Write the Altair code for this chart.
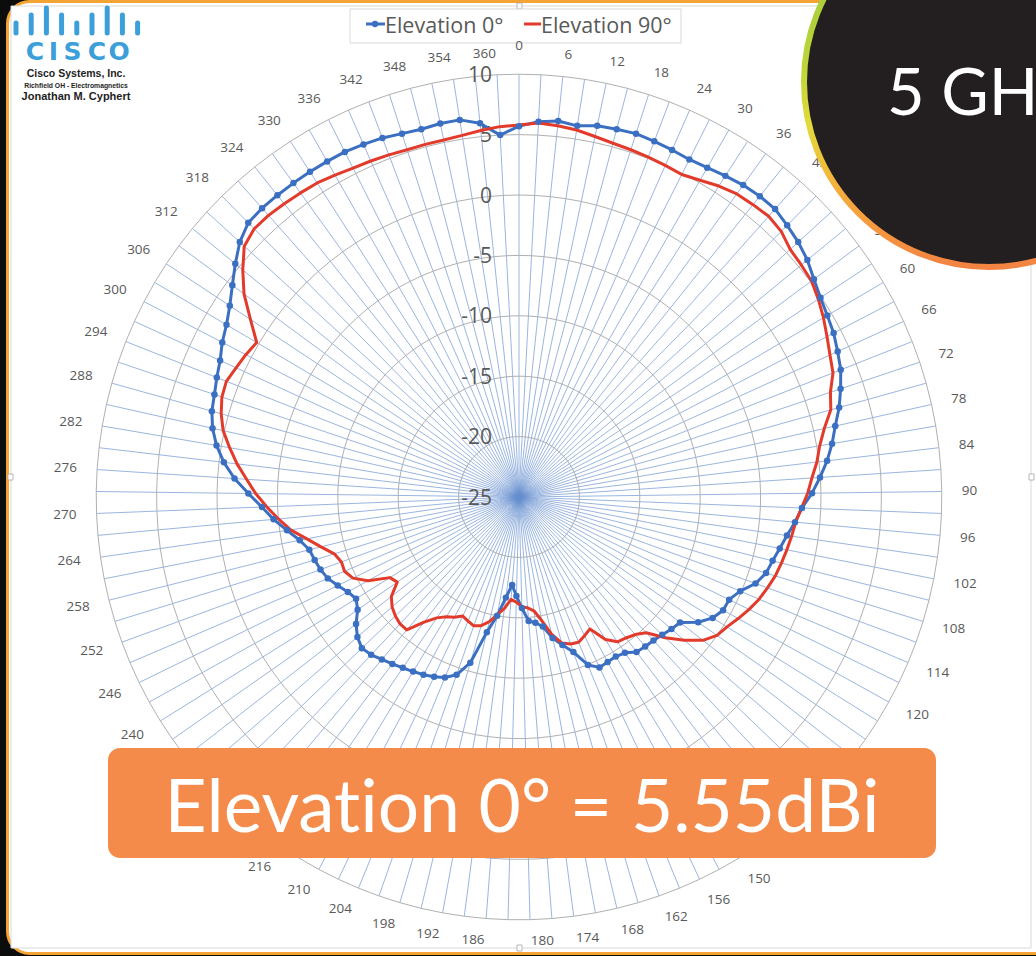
import math
import pandas as pd
import altair as alt

W, H = 1036, 956

# ---------------- data ----------------
degrees = list(range(0, 361, 3))  # 121 categories (0 ... 360)

elevation_0 = [
    5.7, 6.1, 6.3, 6.1, 6.4, 6.5, 6.6, 6.5, 6.4, 6.3,          # 0-27
    6.4, 6.6, 6.8, 6.9, 6.9, 6.6, 6.3, 5.9, 5.35, 4.92,        # 30-57
    4.62, 4.37, 4.0, 3.64, 3.09, 2.52, 1.83, 1.29, 0.68, -0.03,  # 60-87
    -0.74, -1.56, -2.06, -2.59, -3.0, -3.35, -3.6, -4.15, -5.1, -5.64,  # 90-117
    -5.68, -6.1, -6.9, -8.1, -8.3, -8.55, -8.72, -8.8, -8.9, -9.4,  # 120-147
    -9.55, -9.5, -9.4, -9.97, -11.4, -12.24, -13.0, -14.1, -14.5, -14.7,  # 150-177
    -15.8, -16.8, -17.7, -16.6, -15.0, -13.5, -10.7, -9.4, -8.85, -8.55,  # 180-207
    -8.3, -8.1, -7.9, -7.65, -7.4, -7.1, -6.95, -7.3, -7.9, -8.7,  # 210-237
    -9.1, -8.8, -8.3, -7.8, -7.5, -7.3, -7.1, -6.5, -5.6, -4.6,  # 240-267
    -3.7, -2.6, -1.4, -0.4, 0.4, 1.0, 1.4, 1.6, 1.9, 2.2,       # 270-297
    2.7, 3.1, 3.7, 4.5, 5.4, 6.3, 6.9, 7.0, 7.0, 7.0,           # 300-327
    7.0, 7.0, 7.0, 6.9, 6.8, 6.6, 6.5, 6.6, 6.6, 6.1,           # 330-357
    5.0,                                                        # 360
]

elevation_90 = [
    5.8, 6.0, 5.9, 5.75, 5.5, 5.3, 5.2, 5.1, 5.0, 4.9,          # 0-27
    5.2, 5.6, 5.9, 6.0, 6.1, 5.9, 5.4, 5.25, 5.1, 4.7,          # 30-57
    4.25, 3.75, 3.3, 2.95, 2.2, 1.8, 0.9, 0.25, -0.17, -0.7,     # 60-87
    -1.1, -1.6, -2.0, -2.2, -2.4, -2.6, -2.8, -3.1, -3.4, -3.8,  # 90-117
    -4.25, -4.7, -5.0, -5.7, -6.9, -8.2, -9.6, -10.1, -10.35, -10.5,  # 120-147
    -11.2, -12.6, -12.3, -12.0, -12.1, -12.4, -13.3, -14.6, -15.5, -15.8,  # 150-177
    -15.9, -16.3, -16.5, -15.7, -15.1, -14.4, -13.9, -13.7, -13.9, -14.1,  # 180-207
    -13.7, -13.4, -12.9, -12.0, -10.6, -10.6, -10.8, -11.1, -11.6, -12.7,  # 210-237
    -12.4, -10.7, -9.7, -9.3, -9.35, -9.0, -8.1, -7.1, -5.9, -5.0,  # 240-267
    -4.1, -3.2, -2.4, -1.5, -0.7, 0.1, 0.6, 0.95, 1.05, 0.75,    # 270-297
    0.5, 0.2, 1.65, 3.3, 4.6, 5.8, 6.2, 6.2, 6.1, 6.0,          # 300-327
    5.9, 5.7, 5.5, 5.4, 5.3, 5.2, 5.2, 5.2, 5.3, 5.5,           # 330-357
    5.7,                                                        # 360
]
assert len(elevation_0) == len(degrees) == len(elevation_90)

ring_values = [-25, -20, -15, -10, -5, 0, 5, 10]
series_names = ["Elevation 0°", "Elevation 90°"]
series_colors = ["#3b6fc2", "#e23b2b"]

# ---------------- geometry of the polar frame ----------------
CX, CY, PX = 519.0, 497.0, 12.08   # centre (px) and pixels per dB
VMIN, VMAX = ring_values[0], ring_values[-1]
n = len(degrees)
step = 360.0 / n

BANNER = dict(x0=108, x1=936, y0=748, y1=858)

xs = alt.Scale(domain=[-CX / PX, (W - CX) / PX], nice=False, zero=False)
ys = alt.Scale(domain=[-(H - CY) / PX, CY / PX], nice=False, zero=False)


def polar(r, phi_deg):
    a = math.radians(phi_deg)
    return r * math.sin(a), r * math.cos(a)


def X(f="x"):
    return alt.X(f"{f}:Q", scale=xs, axis=None)


def Y(f="y"):
    return alt.Y(f"{f}:Q", scale=ys, axis=None)


# series table
rows = []
for name, vals in zip(series_names, [elevation_0, elevation_90]):
    for order, k in enumerate(list(range(n)) + [0]):
        x, y = polar(vals[k] - VMIN, k * step)
        rows.append(dict(series=name, order=order, deg=degrees[k], value=vals[k], x=x, y=y))
series_df = pd.DataFrame(rows)

# rings (polygons through the spokes, like Excel)
ring_rows = []
for v in ring_values[1:]:
    for k in range(n + 1):
        x, y = polar(v - VMIN, k * step)
        ring_rows.append(dict(ring=v, k=k, x=x, y=y))
ring_df = pd.DataFrame(ring_rows)

# spokes
spoke_rows = []
for k in range(n):
    x2, y2 = polar(VMAX - VMIN, k * step)
    spoke_rows.append(dict(k=k, x=0.0, y=0.0, x2=x2, y2=y2))
spoke_df = pd.DataFrame(spoke_rows)

# radial value labels
val_df = pd.DataFrame({"x": [0.0] * len(ring_values),
                       "y": [v - VMIN for v in ring_values],
                       "label": [str(v) for v in ring_values]})

# category labels (every other category), placed like Excel does
lab_rows = []
for k in range(0, n, 2):
    phi = k * step
    a = math.radians(phi)
    s, c = math.sin(a), math.cos(a)
    txt = str(degrees[k])
    half_w = 4.0 * len(txt)
    R = 436.5 + 6 * abs(s) + (8 if k == 0 else 0)
    sx = 0 if abs(s) < 0.01 else (1 if s > 0 else -1)
    px = R * s + sx * half_w
    py = R * c + 7 * c
    # screen position, to skip labels completely hidden by the banner
    sxp, syp = CX + px, CY - py
    hidden = (BANNER["x0"] < sxp - half_w and sxp + half_w < BANNER["x1"]
              and BANNER["y0"] < syp - 7 and syp + 7 < BANNER["y1"] + 4)
    if not hidden:
        lab_rows.append(dict(label=txt, x=px / PX, y=py / PX))
lab_df = pd.DataFrame(lab_rows)

one = pd.DataFrame({"a": [0]})

# ---------------- layers ----------------
panel = alt.Chart(one).mark_rect(cornerRadius=22, fill="white", stroke="#f4a432", strokeWidth=3).encode(
    x=alt.value(7.5), x2=alt.value(1070), y=alt.value(1.5), y2=alt.value(953.5))

frame = alt.Chart(one).mark_rect(fill="white", stroke="#d9d9d9", strokeWidth=1).encode(
    x=alt.value(11), x2=alt.value(1031), y=alt.value(6), y2=alt.value(948))

handles_df = pd.DataFrame({"x": [517, 8, 1029, 517], "y": [3, 474, 474, 945]})
handles = alt.Chart(handles_df).mark_rect(fill="white", stroke="#a6a6a6", strokeWidth=0.8).encode(
    x=alt.X("x:Q", scale=None), x2=alt.X2("x2:Q"), y=alt.Y("y:Q", scale=None), y2=alt.Y2("y2:Q")
).transform_calculate(x2="datum.x + 5", y2="datum.y + 6")

spokes = alt.Chart(spoke_df).mark_rule(color="#6890cf", strokeWidth=0.9, opacity=0.75).encode(
    x=X(), y=Y(), x2="x2:Q", y2="y2:Q")

rings = alt.Chart(ring_df).mark_line(color="#b0b0b0", strokeWidth=1).encode(
    x=X(), y=Y(), detail="ring:N", order="k:Q")

val_labels = alt.Chart(val_df).mark_text(
    align="right", baseline="middle", dx=-27, dy=1.5, font="Open Sans", fontSize=21, color="#595959").encode(
    x=X(), y=Y(), text="label:N")

ang_labels = alt.Chart(lab_df).mark_text(
    align="center", baseline="middle", font="Open Sans", fontSize=13.5, color="#595959").encode(
    x=X(), y=Y(), text="label:N")

lines = alt.Chart(series_df).mark_line(strokeWidth=3, strokeJoin="round").encode(
    x=X(), y=Y(), order="order:Q", detail="series:N",
    color=alt.Color("series:N", scale=alt.Scale(domain=series_names, range=series_colors), legend=None))

markers = alt.Chart(series_df[(series_df.series == series_names[0]) & (series_df.order < n)]).mark_point(
    filled=True, size=42, opacity=1, color=series_colors[0]).encode(x=X(), y=Y())

# legend (drawn like Excel's)
leg_box = alt.Chart(one).mark_rect(fill="white", stroke="#d9d9d9", strokeWidth=1).encode(
    x=alt.value(350), x2=alt.value(681), y=alt.value(9), y2=alt.value(43))
leg_df = pd.DataFrame({"name": series_names, "x0": [366, 524], "x1": [385, 541], "color": series_colors})
leg_lines = alt.Chart(leg_df).mark_rule(strokeWidth=3).encode(
    x=alt.X("x0:Q", scale=None), x2="x1:Q", y=alt.value(24),
    color=alt.Color("color:N", scale=None))
leg_dot = alt.Chart(one).mark_point(filled=True, size=40, opacity=1, color=series_colors[0]).encode(
    x=alt.value(375), y=alt.value(24))
leg_text = alt.Chart(leg_df).mark_text(
    align="left", baseline="alphabetic", font="Open Sans", fontSize=21.5, color="#595959").encode(
    x=alt.X("x1:Q", scale=None), y=alt.value(33), text="name:N")

# Cisco logo
bar_df = pd.DataFrame({"x": [16 + 15.2 * i for i in range(9)],
                       "top": [23, 15, 8, 15, 23, 15, 8, 15, 23],
                       "bottom": [33] * 9})
logo_bars = alt.Chart(bar_df).mark_rule(strokeWidth=5, strokeCap="round", color="#3c9fd9").encode(
    x=alt.X("x:Q", scale=None), y=alt.Y("top:Q", scale=None), y2="bottom:Q")
logo_letters = pd.DataFrame({"ch": list("CISCO"), "x": [35, 53.5, 72.5, 97, 119]})
logo_word = alt.Chart(logo_letters).mark_text(
    align="center", baseline="alphabetic", font="DejaVu Sans", fontWeight="bold", fontSize=25,
    color="#3c9fd9").encode(x=alt.X("x:Q", scale=None), y=alt.value(60), text="ch:N")
credit_df = pd.DataFrame({
    "t": ["Cisco Systems, Inc.", "Richfield OH - Electromagnetics", "Jonathan M. Cyphert"],
    "y": [77, 87.5, 99.5], "s": [10.5, 6.8, 11]})
credit = alt.layer(*[
    alt.Chart(credit_df.iloc[[i]]).mark_text(
        align="center", baseline="alphabetic", font="Liberation Sans", fontWeight="bold",
        fontSize=float(credit_df.s[i]), color="#1e1e1e").encode(
        x=alt.value(76), y=alt.Y("y:Q", scale=None), text="t:N")
    for i in range(len(credit_df))])

# frequency badge
ring_grad = alt.LinearGradient(
    gradient="linear", x1=0, y1=0, x2=0, y2=1,
    stops=[alt.GradientStop(offset=0.0, color="#8fc43c"),
           alt.GradientStop(offset=0.45, color="#bcd53a"),
           alt.GradientStop(offset=0.62, color="#e3da3b"),
           alt.GradientStop(offset=0.76, color="#f4b53b"),
           alt.GradientStop(offset=0.9, color="#f5973f"),
           alt.GradientStop(offset=1.0, color="#f28343")])
badge = alt.Chart(one).mark_point(
    shape="circle", filled=True, size=370 ** 2, fill="#231f20", stroke=ring_grad,
    strokeWidth=6, opacity=1, fillOpacity=1, strokeOpacity=1, clip=True).encode(
    x=alt.value(989), y=alt.value(82))
badge_text = alt.Chart(pd.DataFrame({"t": ["5 GHz"]})).mark_text(
    align="left", baseline="alphabetic", font="Lato", fontSize=65, color="white", clip=True).encode(
    x=alt.value(887), y=alt.value(115), text="t:N")

# gain banner  (U+200C keeps Lato from fusing "ti" into a ligature)
banner = alt.Chart(one).mark_rect(cornerRadius=12, color="#f58b4b").encode(
    x=alt.value(BANNER["x0"]), x2=alt.value(BANNER["x1"]),
    y=alt.value(BANNER["y0"]), y2=alt.value(BANNER["y1"]))
banner_text = alt.Chart(pd.DataFrame({"t": ["Elevat\u200cion 0° = 5.55dBi"]})).mark_text(
    align="center", baseline="alphabetic", font="Lato", fontSize=73, color="white").encode(
    x=alt.value(522), y=alt.value(832), text="t:N")

chart = alt.layer(
    panel, frame, handles, spokes, rings, val_labels, lines, markers,
    leg_box, leg_lines, leg_dot, leg_text, ang_labels, logo_bars, logo_word, credit,
    badge, badge_text, banner, banner_text
).properties(
    width=W, height=H, padding=0, autosize=alt.AutoSizeParams(type="none"), background="#0c0c0c"
).configure_view(stroke=None)

chart.save("out.html", embed_options={"renderer": "svg", "actions": False})
